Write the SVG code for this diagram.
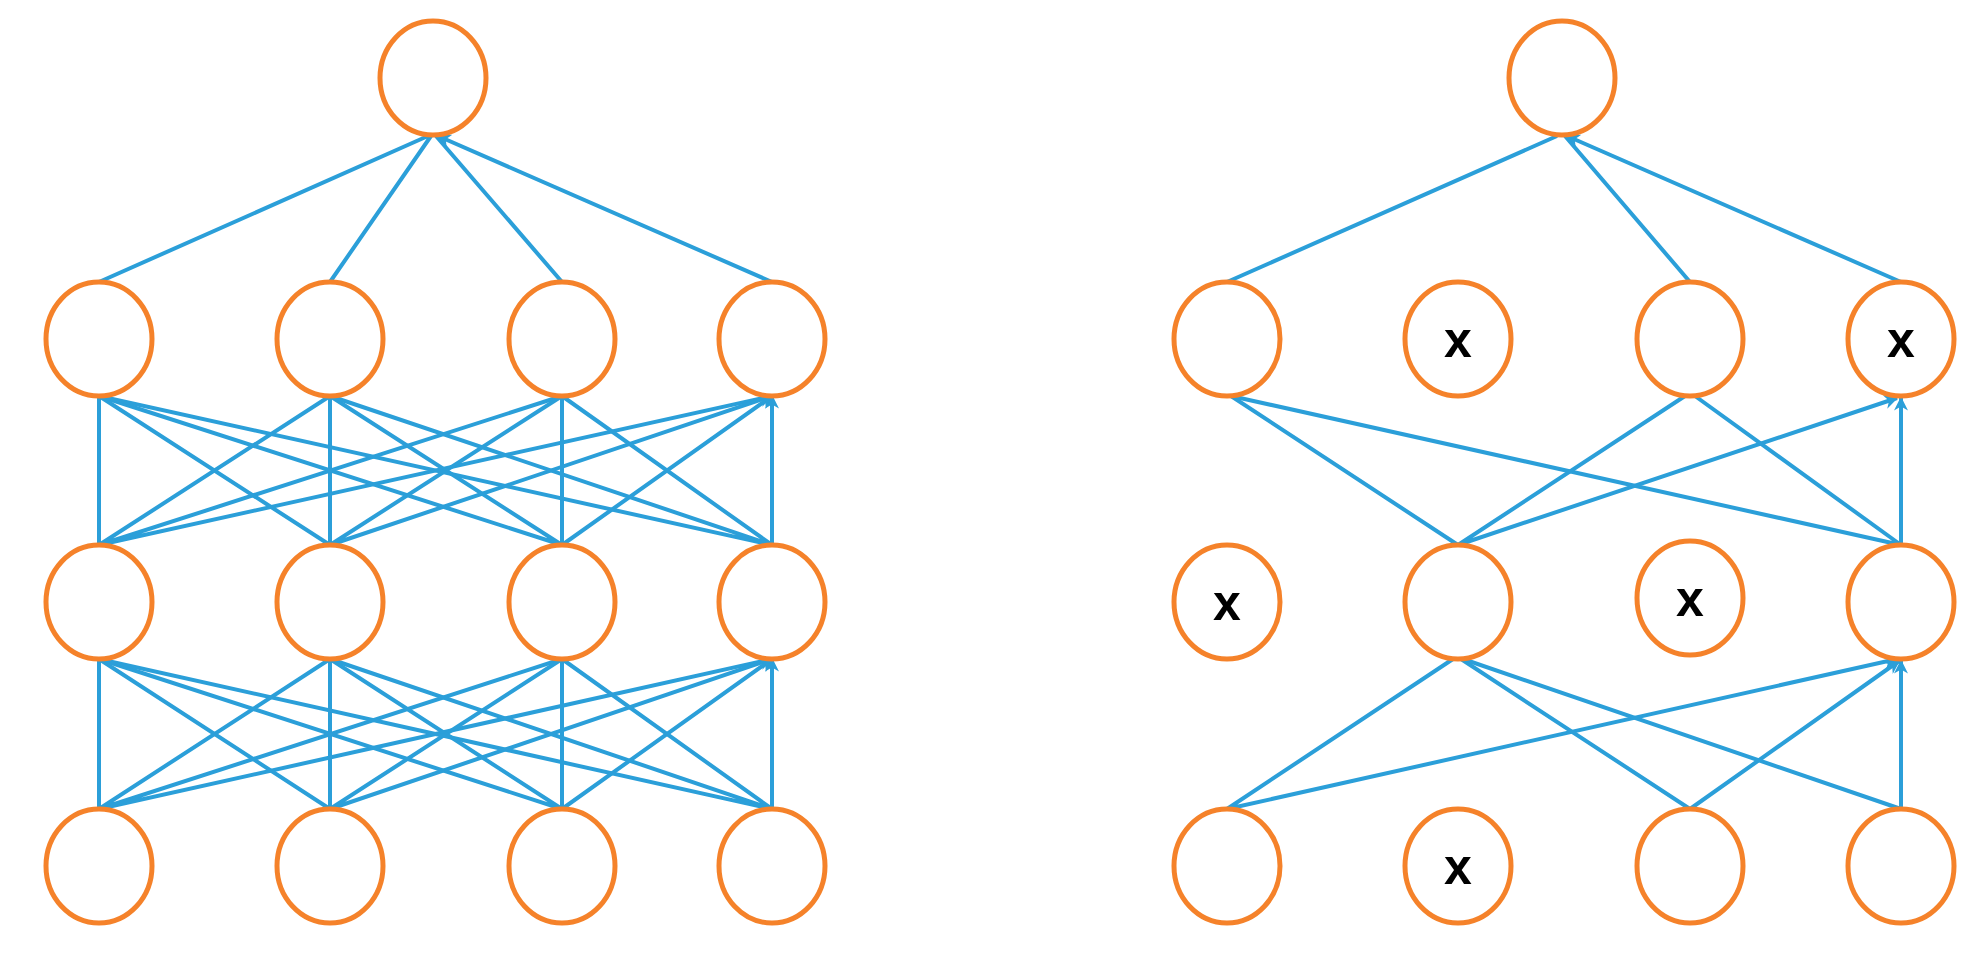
<svg xmlns="http://www.w3.org/2000/svg" width="1967" height="955" viewBox="0 0 1967 955">
<style>
.n{fill:#fff;stroke:#f5822a;stroke-width:5}
.e{stroke:#2b9fd9;stroke-width:4;fill:none;marker-end:url(#a)}
.t{font-family:"Liberation Sans",Arial,sans-serif;font-weight:bold;font-size:50px;fill:#000;text-anchor:middle}
</style>
<defs><marker id="a" viewBox="0 0 10 10" refX="9" refY="5" markerWidth="16" markerHeight="14" markerUnits="userSpaceOnUse" orient="auto"><path d="M0,0L10,5L0,10L3,5Z" fill="#2b9fd9"/></marker></defs>
<rect width="1967" height="955" fill="#fff"/>
<g id="connectors">
<!-- left r4->r3 -->
<path class="e" d="M99,809L99,659M99,809L330,659M99,809L562,659M99,809L772,659"/>
<path class="e" d="M330,809L99,659M330,809L330,659M330,809L562,659M330,809L772,659"/>
<path class="e" d="M562,809L99,659M562,809L330,659M562,809L562,659M562,809L772,659"/>
<path class="e" d="M772,809L99,659M772,809L330,659M772,809L562,659M772,809L772,659"/>
<!-- left r3->r2 -->
<path class="e" d="M99,545L99,396M99,545L330,396M99,545L562,396M99,545L772,396"/>
<path class="e" d="M330,545L99,396M330,545L330,396M330,545L562,396M330,545L772,396"/>
<path class="e" d="M562,545L99,396M562,545L330,396M562,545L562,396M562,545L772,396"/>
<path class="e" d="M772,545L99,396M772,545L330,396M772,545L562,396M772,545L772,396"/>
<!-- left r2->top -->
<path class="e" d="M99,282L428,136M330,282L431,136M562,282L436,136M772,282L438,136"/>
<!-- right r2->top -->
<path class="e" d="M1227,282L1557,136M1690,282L1565,136M1901,282L1567,136"/>
<!-- right r3->r2 -->
<path class="e" d="M1458,545L1231,396M1458,545L1685,396M1458,545L1897,398"/>
<path class="e" d="M1901,545L1231,396M1901,545L1695,396M1901,545L1901,398"/>
<!-- right r4->r3 -->
<path class="e" d="M1227,809L1453,659M1227,809L1897,659"/>
<path class="e" d="M1690,809L1461,659M1690,809L1899,661"/>
<path class="e" d="M1901,809L1463,659M1901,809L1901,661"/>
</g>
<g id="L-top"><ellipse class="n" cx="433" cy="78" rx="53" ry="57"/></g>
<g id="L-r2"><ellipse class="n" cx="99" cy="339" rx="53" ry="57"/><ellipse class="n" cx="330" cy="339" rx="53" ry="57"/><ellipse class="n" cx="562" cy="339" rx="53" ry="57"/><ellipse class="n" cx="772" cy="339" rx="53" ry="57"/></g>
<g id="L-r3"><ellipse class="n" cx="99" cy="602" rx="53" ry="57"/><ellipse class="n" cx="330" cy="602" rx="53" ry="57"/><ellipse class="n" cx="562" cy="602" rx="53" ry="57"/><ellipse class="n" cx="772" cy="602" rx="53" ry="57"/></g>
<g id="L-r4"><ellipse class="n" cx="99" cy="866" rx="53" ry="57"/><ellipse class="n" cx="330" cy="866" rx="53" ry="57"/><ellipse class="n" cx="562" cy="866" rx="53" ry="57"/><ellipse class="n" cx="772" cy="866" rx="53" ry="57"/></g>
<g id="R-top"><ellipse class="n" cx="1562" cy="78" rx="53" ry="57"/></g>
<g id="R-r2"><ellipse class="n" cx="1227" cy="339" rx="53" ry="57"/>
<g id="R-r2-x1"><ellipse class="n" cx="1458" cy="339" rx="53" ry="57"/><text class="t" x="1458" y="357">x</text></g>
<ellipse class="n" cx="1690" cy="339" rx="53" ry="57"/>
<g id="R-r2-x2"><ellipse class="n" cx="1901" cy="339" rx="53" ry="57"/><text class="t" x="1901" y="357">x</text></g></g>
<g id="R-r3">
<g id="R-r3-x1"><ellipse class="n" cx="1227" cy="602" rx="53" ry="57"/><text class="t" x="1227" y="620">x</text></g>
<ellipse class="n" cx="1458" cy="602" rx="53" ry="57"/>
<g id="R-r3-x2"><ellipse class="n" cx="1690" cy="598" rx="53" ry="57"/><text class="t" x="1690" y="616">x</text></g>
<ellipse class="n" cx="1901" cy="602" rx="53" ry="57"/></g>
<g id="R-r4"><ellipse class="n" cx="1227" cy="866" rx="53" ry="57"/>
<g id="R-r4-x"><ellipse class="n" cx="1458" cy="866" rx="53" ry="57"/><text class="t" x="1458" y="884">x</text></g>
<ellipse class="n" cx="1690" cy="866" rx="53" ry="57"/><ellipse class="n" cx="1901" cy="866" rx="53" ry="57"/></g>
</svg>
